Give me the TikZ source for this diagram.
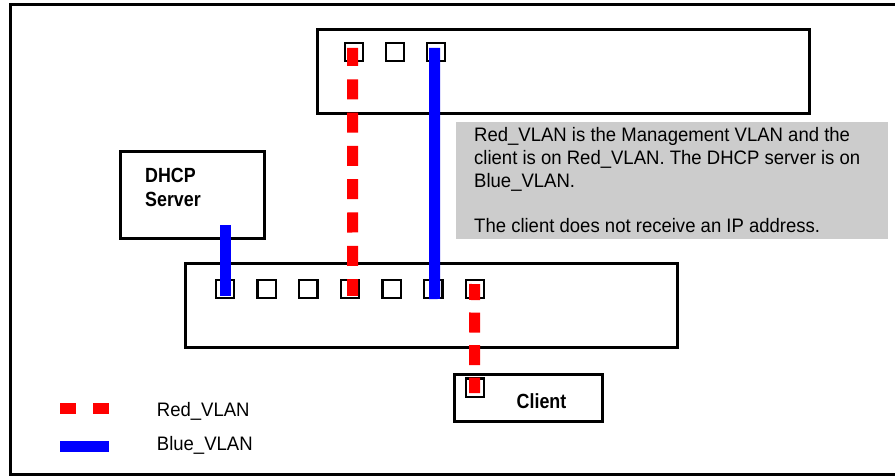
\documentclass[tikz,border=0pt]{standalone}
\usepackage{fontspec}
\setmainfont{Liberation Sans}
\newfontfamily\notefont{Liberation Sans}[FakeStretch=0.95]
\newfontfamily\namefont{Liberation Sans}[FakeStretch=0.87]
\usetikzlibrary{positioning}
\definecolor{vlanRed}{RGB}{255, 0, 0}
\definecolor{vlanBlue}{RGB}{0, 0, 255}
\definecolor{noteGray}{RGB}{204, 204, 204}
\tikzset{
	unit/.style={draw, line width=3pt, inner sep=0pt, anchor=north west},
	port/.style={draw, line width=2.3pt, minimum size=18.3pt, inner sep=0pt},
	redvlan/.style={draw=vlanRed, line width=11pt, dash pattern=on 20pt off 13.3pt},
	bluevlan/.style={draw=vlanBlue, line width=11pt},
	notetext/.style={font=\notefont\fontsize{19.5}{23}\selectfont, inner sep=0pt},
	nametext/.style={font=\namefont\bfseries\fontsize{20.5}{23.5}\selectfont, inner sep=0pt}
}

\begin{document}
\begin{tikzpicture}[x=1pt, y=-1pt]
	\useasboundingbox (0,0) rectangle (895,476);

	% frame
	\draw[line width=3pt] (895,4.5) -- (10.5,4.5) -- (10.5,474.5) -- (895,474.5);

	% switches
	\node[unit, minimum width=492pt, minimum height=84pt] (topsw) at (316,28) {};
	\node[unit, minimum width=492pt, minimum height=84pt] (botsw) at (184,262.2) {};
	\foreach \i in {1,2,3}
		\node[port] (t\i) at ({354+41*(\i-1)},52) {};
	\foreach \i in {1,...,7}
		\node[port] (b\i) at ({225+41.67*(\i-1)},288.85) {};

	% note
	\node[fill=noteGray, inner sep=0pt, anchor=north west, minimum width=432pt, minimum height=116.5pt] (note) at (456,122) {};
	\node[notetext, anchor=north west, align=left] (notebody) at (474,127)
		{Red\_VLAN is the Management VLAN and the\\
		 client is on Red\_VLAN. The DHCP server is on\\
		 Blue\_VLAN.\\[22pt]
		 The client does not receive an IP address.};

	% hosts
	\node[unit, minimum width=144pt, minimum height=86.7pt] (dhcp) at (119,150.5) {};
	\node[nametext, anchor=base west] (dhcplbl) at (145,182.7) {DHCP};
	\node[nametext, anchor=base west] (srvlbl) at (145,207) {Server};
	\coordinate (dport) at (225,225);

	\node[unit, minimum width=148.3pt, minimum height=47.7pt] (client) at (452.5,372.5) {};
	\node[port] (cport) at (475,387.7) {};
	\node[nametext, anchor=base] (clientlbl) at (541.5,408) {Client};

	% vlans
	\draw[redvlan, dash phase=2pt] ([xshift=-1.5pt, yshift=4pt]t1.center) -- ([xshift=2.5pt, yshift=-7pt]b4.center);
	\draw[bluevlan] ([xshift=-1.5pt, yshift=4pt]t3.center) -- ([xshift=1.2pt, yshift=-10.15pt]b6.center);
	\draw[bluevlan] (dport) -- ([yshift=-7.15pt]b1.center);
	\draw[redvlan, dash pattern=on 20pt off 12.5pt, dash phase=4pt] ([xshift=-0.5pt, yshift=4.85pt]b7.center) -- ([xshift=-0.5pt, yshift=-5.3pt]cport.center);

	% key
	\coordinate (redkeyA) at (60,408.7);
	\coordinate (redkeyB) at (109,408.7);
	\coordinate (bluekeyA) at (60,446.4);
	\coordinate (bluekeyB) at (109,446.4);
	\draw[redvlan, dash pattern=on 16pt off 17pt] (redkeyA) -- (redkeyB);
	\draw[bluevlan] (bluekeyA) -- (bluekeyB);
	\node[notetext, anchor=base west] (redlbl) at (156.7,416) {Red\_VLAN};
	\node[notetext, anchor=base west] (bluelbl) at (156.7,450.5) {Blue\_VLAN};

\end{tikzpicture}
\end{document}
